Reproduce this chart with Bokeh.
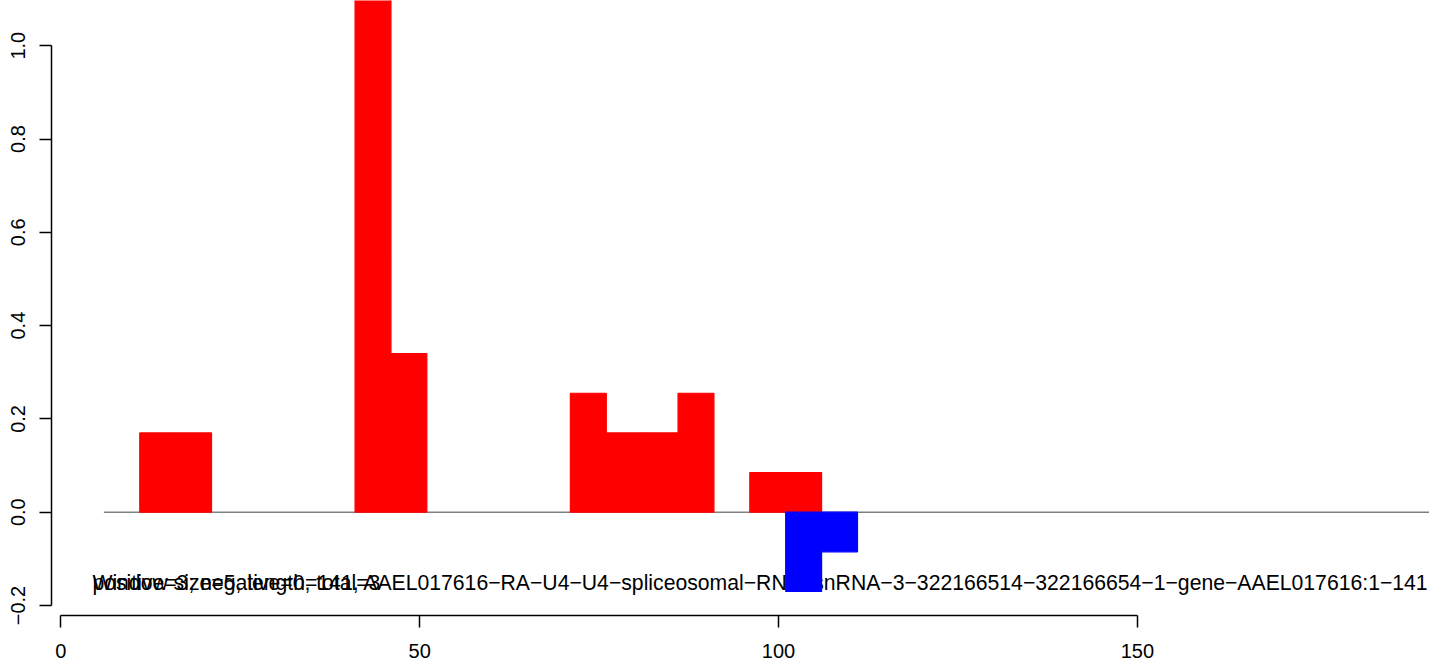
from bokeh.plotting import figure
from bokeh.models import Range1d, FixedTicker, ColumnDataSource
from bokeh.core.properties import value
from bokeh.embed import file_html
from bokeh.resources import INLINE

# ---- data ----
bin_width = 5
pos_start = [11, 16, 41, 46, 71, 76, 81, 86, 96, 101]
pos_value = [0.17, 0.17, 1.10, 0.34, 0.255, 0.17, 0.17, 0.255, 0.085, 0.085]
neg_start = [101, 106]
neg_value = [-0.17, -0.085]
baseline_x = [6, 192]
baseline_y = [0, 0]
x_ticks = [0, 50, 100, 150]
y_ticks = [-0.2, 0.0, 0.2, 0.4, 0.6, 0.8, 1.0]
y_tick_labels = ["\u22120.2", "0.0", "0.2", "0.4", "0.6", "0.8", "1.0"]
label_1 = ("Window size=5, length=141, AAEL017616\u2212RA\u2212U4\u2212U4\u2212spliceosomal\u2212RNA"
           "\u2212snRNA\u22123\u2212322166514\u2212322166654\u22121\u2212gene\u2212AAEL017616:1\u2212141")
label_2 = "positive=3; negative=0, total=3"
label_x = 4.4
label_y = -0.15

FONT = "Liberation Sans"

x_left, x_right = -1.296, 190.7
y_bot, y_top = -0.2214, 1.0969

p = figure(width=1429, height=663, output_backend="svg", toolbar_location=None,
           x_range=Range1d(x_left, x_right), y_range=Range1d(y_bot, y_top),
           min_border_left=51, min_border_right=0, min_border_top=0, min_border_bottom=48)
p.outline_line_color = None
p.xgrid.grid_line_color = None
p.ygrid.grid_line_color = None
p.background_fill_color = "white"

# baseline
p.line(baseline_x, baseline_y, line_color="#808080", line_width=1.6)

pos_src = ColumnDataSource(dict(left=pos_start, right=[s + bin_width for s in pos_start],
                                top=pos_value, bottom=[0] * len(pos_value)))
p.quad(left="left", right="right", top="top", bottom="bottom", source=pos_src,
       fill_color="#FF0000", line_color="#FF0000", line_width=1.2)

txt_src = ColumnDataSource(dict(x=[label_x, label_x], y=[label_y, label_y], t=[label_1, label_2]))
p.text(x="x", y="y", text="t", source=txt_src, text_font=value(FONT), text_font_size="21.2px",
       text_color="black", text_align="left", text_baseline="middle")

neg_src = ColumnDataSource(dict(left=neg_start, right=[s + bin_width for s in neg_start],
                                top=[0] * len(neg_value), bottom=neg_value))
p.quad(left="left", right="right", top="top", bottom="bottom", source=neg_src,
       fill_color="#0000FF", line_color="#0000FF", line_width=1.2)

for ax in (p.xaxis, p.yaxis):
    ax.axis_line_color = "black"
    ax.axis_line_width = 1.5
    ax.major_tick_line_color = "black"
    ax.major_tick_line_width = 1.5
    ax.major_tick_out = 12
    ax.major_tick_in = 0
    ax.minor_tick_line_color = None
    ax.major_label_text_font = FONT
    ax.major_label_text_font_size = "20px"
    ax.major_label_text_color = "black"

p.xaxis.bounds = (x_ticks[0], x_ticks[-1])
p.xaxis.ticker = FixedTicker(ticks=x_ticks)
p.xaxis.major_label_standoff = 16

p.yaxis.bounds = (y_ticks[0], y_ticks[-1])
p.yaxis.ticker = FixedTicker(ticks=y_ticks)
p.yaxis.major_label_overrides = {t: l for t, l in zip(y_ticks, y_tick_labels)}
p.yaxis.major_label_orientation = "vertical"
p.yaxis.major_label_standoff = 14

open("out.html", "w").write(file_html(p, INLINE))
